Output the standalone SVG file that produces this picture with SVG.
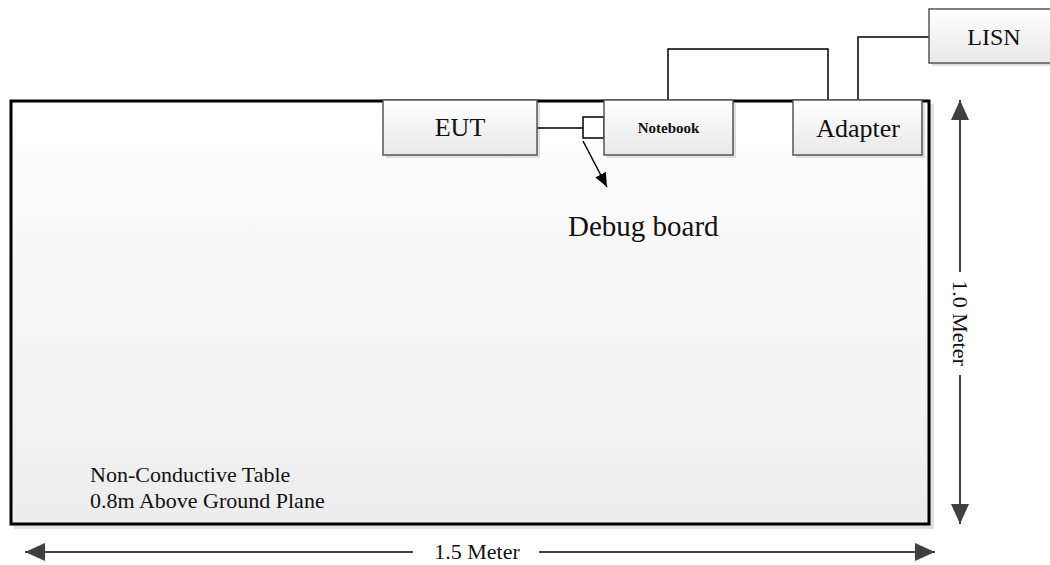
<svg xmlns="http://www.w3.org/2000/svg" width="1050" height="565" viewBox="0 0 1050 565">
<defs>
<linearGradient id="tableFill" x1="0" y1="0" x2="0" y2="1">
<stop offset="0" stop-color="#ffffff"/>
<stop offset="1" stop-color="#ededed"/>
</linearGradient>
<linearGradient id="boxFill" x1="0" y1="0" x2="0" y2="1">
<stop offset="0" stop-color="#ffffff"/>
<stop offset="1" stop-color="#e8e8e8"/>
</linearGradient>
<marker id="dimArrow" markerWidth="10" markerHeight="10" refX="9" refY="5" orient="auto" markerUnits="userSpaceOnUse" viewBox="0 0 10 10">
<path d="M0,0 L10,5 L0,10 Z" fill="#404040"/>
</marker>
<marker id="dimArrowBig" markerWidth="20" markerHeight="18" refX="20" refY="9" orient="auto" markerUnits="userSpaceOnUse" viewBox="0 0 20 18">
<path d="M0,0 L20,9 L0,18 Z" fill="#404040"/>
</marker>
<marker id="blkArrow" markerWidth="14" markerHeight="12" refX="14" refY="6" orient="auto" markerUnits="userSpaceOnUse" viewBox="0 0 14 12">
<path d="M0,0 L14,6 L0,12 Z" fill="#000000"/>
</marker>
</defs>
<style>
.shadow{fill:#000000;fill-opacity:0.12}
.box{fill:url(#boxFill);stroke:#555555;stroke-width:1.5}
.lbl{font-family:"Liberation Serif","Times New Roman",serif;fill:#111111}
.wire{fill:none;stroke:#000000;stroke-width:1.5}
.dim{fill:none;stroke:#404040;stroke-width:2}
</style>

<g id="table">
<rect class="shadow" x="14" y="104" width="920" height="425"/>
<rect x="11" y="101" width="918" height="423" fill="url(#tableFill)" stroke="#000000" stroke-width="3"/>
<text class="lbl" x="90" y="482" font-size="22">Non-Conductive Table</text>
<text class="lbl" x="90" y="508" font-size="22">0.8m Above Ground Plane</text>
</g>

<g id="connectors">
<path class="wire" d="M537,128 H583"/>
<path class="wire" d="M668,100 V49 H828 V100"/>
<path class="wire" d="M858,100 V37 H929"/>
<path d="M583,141 L607,187" fill="none" stroke="#000000" stroke-width="1.5" marker-end="url(#blkArrow)"/>
</g>

<g id="eut">
<rect class="shadow" x="386" y="103" width="154" height="55"/>
<rect class="box" x="383" y="100" width="154" height="55"/>
<text class="lbl" x="460" y="136" font-size="26" text-anchor="middle">EUT</text>
</g>

<g id="debug-board">
<rect x="583" y="117" width="21" height="21" fill="#ffffff" stroke="#000000" stroke-width="1.5"/>
<text class="lbl" x="568" y="236" font-size="29">Debug board</text>
</g>

<g id="notebook">
<rect class="shadow" x="607" y="103" width="129" height="55"/>
<rect class="box" x="604" y="100" width="129" height="55"/>
<text class="lbl" x="668.5" y="133" font-size="15" font-weight="bold" text-anchor="middle">Notebook</text>
</g>

<g id="adapter">
<rect class="shadow" x="796" y="103" width="129" height="55"/>
<rect class="box" x="793" y="100" width="129" height="55"/>
<text class="lbl" x="858" y="137" font-size="26" text-anchor="middle">Adapter</text>
</g>

<g id="lisn">
<rect class="shadow" x="932" y="12" width="130" height="54"/>
<rect class="box" x="929" y="9" width="130" height="54"/>
<text class="lbl" x="994" y="45" font-size="24" text-anchor="middle">LISN</text>
</g>

<g id="dim-height">
<path class="dim" d="M960,272 V100" marker-end="url(#dimArrowBig)"/>
<path class="dim" d="M960,375 V524" marker-end="url(#dimArrowBig)"/>
<text class="lbl" transform="translate(953,323) rotate(90)" font-size="22" text-anchor="middle">1.0 Meter</text>
</g>

<g id="dim-width">
<path class="dim" d="M413,552 H25" marker-end="url(#dimArrowBig)"/>
<path class="dim" d="M539,552 H935" marker-end="url(#dimArrowBig)"/>
<text class="lbl" x="477" y="559" font-size="22" text-anchor="middle">1.5 Meter</text>
</g>
</svg>
